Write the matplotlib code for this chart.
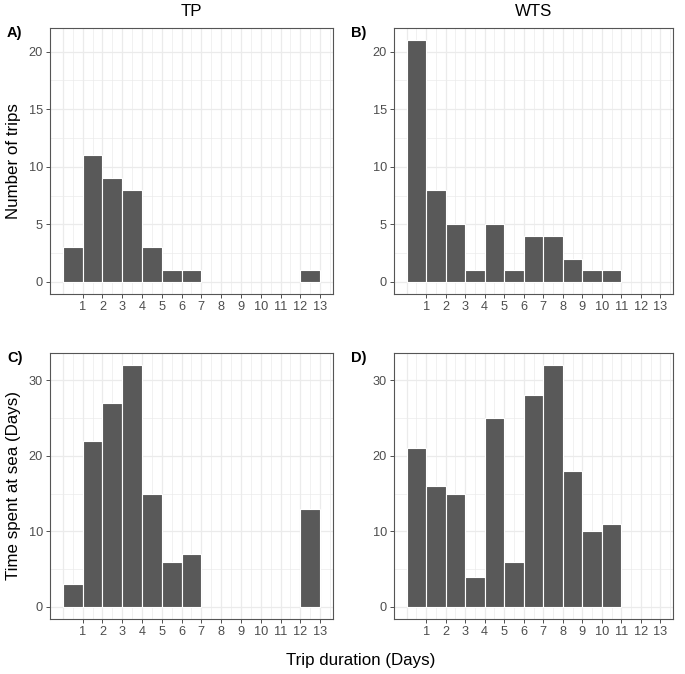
import numpy as np
import matplotlib.pyplot as plt

plt.rcParams['font.family'] = ['Liberation Sans', 'DejaVu Sans']

# trip duration bins (bar centres 0.5 .. 12.5)
days = np.arange(13) + 0.5
tp_trips = [3, 11, 9, 8, 3, 1, 1, 0, 0, 0, 0, 0, 1]
wts_trips = [21, 8, 5, 1, 5, 1, 4, 4, 2, 1, 1, 0, 0]
tp_time = [3, 22, 27, 32, 15, 6, 7, 0, 0, 0, 0, 0, 13]
wts_time = [21, 16, 15, 4, 25, 6, 28, 32, 18, 10, 11, 0, 0]
xticks = list(range(1, 14))

W, H = 685, 674
fig = plt.figure(figsize=(W / 100, H / 100), dpi=100)

def box(l, r, t, b):
    return [l / W, 1 - b / H, (r - l) / W, (b - t) / H]

panels = [
    (box(50, 333, 28, 294), tp_trips, 21, 5, "A)"),
    (box(394, 673, 28, 294), wts_trips, 21, 5, "B)"),
    (box(50, 333, 353, 619), tp_time, 32, 10, "C)"),
    (box(394, 673, 353, 619), wts_time, 32, 10, "D)"),
]

axes = []
for rect, vals, top, step, tag in panels:
    ax = fig.add_axes(rect)
    axes.append(ax)
    # grid: minor then major
    for v in np.arange(0, 13.6, 0.5):
        lw = 0.9 if v == int(v) else 0.5
        ax.axvline(v, color='#ebebeb', lw=lw, zorder=0)
    for v in np.arange(0, top + 2, step / 2):
        lw = 0.9 if v % step == 0 else 0.5
        ax.axhline(v, color='#ebebeb', lw=lw, zorder=0)
    bars = [(d, v) for d, v in zip(days, vals) if v > 0]
    ax.bar([b[0] for b in bars], [b[1] for b in bars], width=1.0,
           color='#595959', edgecolor='white', linewidth=0.8, zorder=2)
    ax.set_xlim(-0.65, 13.65)
    ax.set_ylim(-0.05 * top, top * 1.05)
    ax.set_xticks(xticks)
    ax.set_yticks(np.arange(0, top + 1, step))
    ax.tick_params(length=3, width=0.6, color='#333333', labelcolor='#4d4d4d',
                   labelsize=9.2, pad=2)
    for s in ax.spines.values():
        s.set_color('#555555')
        s.set_linewidth(0.8)
    pos = ax.get_position()
    fig.text(pos.x0 - 43 / W, pos.y1 - 5 / H, tag, fontsize=10.5, fontweight='bold',
             ha='left', va='center')

fig.text((50 + 333) / 2 / W, 1 - 12 / H, "TP", ha='center', va='center', fontsize=12.2)
fig.text((394 + 673) / 2 / W, 1 - 12 / H, "WTS", ha='center', va='center', fontsize=12.2)
fig.text(14 / W, 1 - 161 / H, "Number of trips", rotation=90, ha='center',
         va='center', fontsize=12.2)
fig.text(14 / W, 1 - 486 / H, "Time spent at sea (Days)", rotation=90, ha='center',
         va='center', fontsize=12.2)
fig.text(361 / W, 1 - 660 / H, "Trip duration (Days)", ha='center', va='center',
         fontsize=12.2)

fig.savefig("out.png", dpi=100, facecolor='white')
